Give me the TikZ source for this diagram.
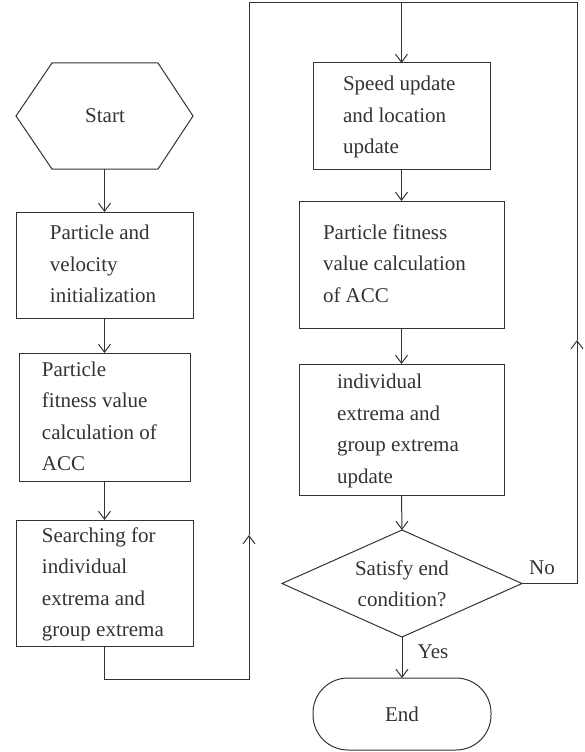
\documentclass[tikz,border=0pt]{standalone}
\usepackage{fontspec}
\setmainfont{Liberation Serif}
\usetikzlibrary{arrows.meta,shapes.geometric}
\definecolor{ink}{HTML}{333333}
\newcommand{\bt}[3]{\makebox[#1pt][l]{\hspace*{#2pt}\begin{tabular}{@{}l@{}}#3\end{tabular}}}
\tikzset{
  box/.style={draw=ink, line width=1pt, inner sep=0pt, outer sep=0pt},
  arr/.style={draw=ink, line width=1pt, -{Straight Barb[length=8pt,width=12pt]}},
  ln/.style={draw=ink, line width=1pt},
  lbl/.style={inner sep=0pt, outer sep=0pt}
}
\begin{document}
\begin{tikzpicture}[x=1pt,y=-1pt, font=\fontsize{21}{31.5}\selectfont, text=ink]
\useasboundingbox (0,0) rectangle (584,752);
% left column
\node[lbl, minimum width=106, minimum height=106] (start) at (105,116) {Start};
\draw[ln] (start.north west) -- (start.north east) -- ([xshift=35pt]start.east)
  -- (start.south east) -- (start.south west) -- ([xshift=-36pt]start.west) -- cycle;
\node[box, minimum height=106] (b1) at (104.5,265) {\bt{177}{34}{Particle and\\velocity\\initialization}};
\node[box, minimum height=128] (b2) at (104.5,417) {\bt{171}{23}{Particle\\fitness value\\calculation of\\ACC}};
\node[box, minimum height=120] (b3) at (104.5,583) {\bt{177}{26}{Searching for\\individual\\extrema and\\group extrema}};
% right column
\node[box, minimum height=106] (b4) at (401.5,116) {\bt{177}{30}{Speed update\\and location\\update}};
\node[box, minimum height=127] (b5) at (401.5,264.5) {\bt{205}{24}{Particle fitness\\value calculation\\of ACC}};
\node[box, minimum height=131] (b6) at (401.5,429.5) {\bt{205}{38}{individual\\extrema and\\group extrema\\update}};
\node[box, diamond, aspect=2.24, minimum width=240, minimum height=107, align=center] (dia) at (402,583.5) {Satisfy end\\condition?};
\node[box, rounded corners=35pt, minimum width=178, minimum height=72] (end) at (402,714) {End};
\node[lbl] (no) at (542,568) {No};
\node[lbl] (yes) at (433,652) {Yes};
% loop coordinates
\coordinate (lb) at (249,679);
\coordinate (la) at (249,535);
\coordinate (tl) at (249,3);
\coordinate (ra) at (577,340);
\coordinate (tm) at (402,3);
% connectors
\draw[arr] (start.south -| b1.north) -- (b1.north);
\draw[arr] (b1.south) -- (b2.north);
\draw[arr] (b2.south) -- (b3.north);
\draw[arr] (b3.south) |- (lb) -- (la);
\draw[arr] (la) -- (tl) -| (b4.north);
\draw[arr] (b4.south) -- (b5.north);
\draw[arr] (b5.south) -- (b6.north);
\draw[arr] (b6.south) -- (dia.north);
\draw[arr] (dia.south) -- (end.north);
\draw[arr] (dia.east) -| (ra);
\draw[ln] (ra) |- (tm);
\end{tikzpicture}
\end{document}
